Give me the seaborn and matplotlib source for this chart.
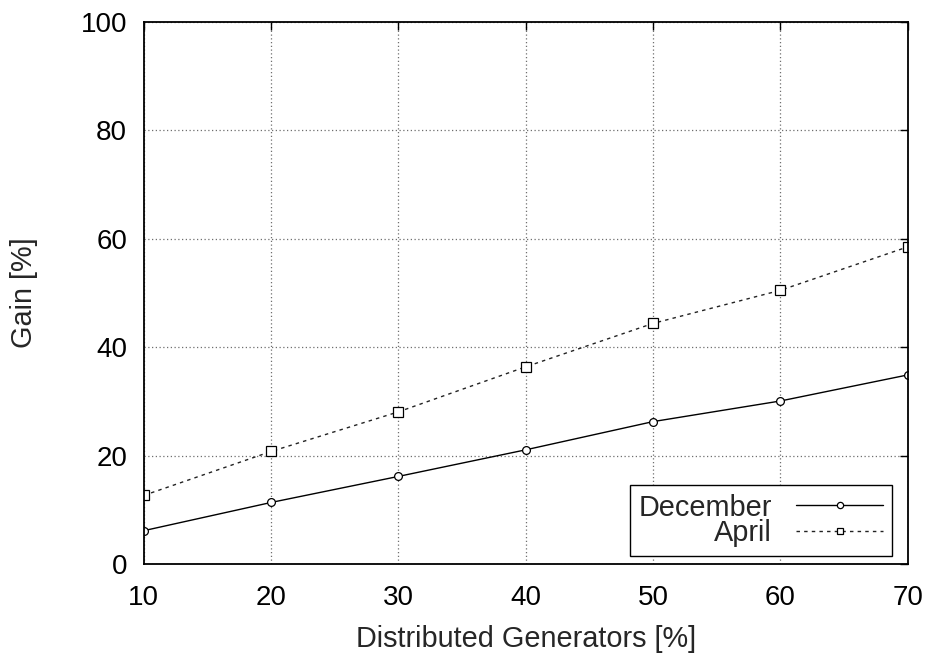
import matplotlib
matplotlib.use("Agg")
import matplotlib.pyplot as plt
import seaborn as sns
import pandas as pd

# Share of distributed generators [%]
dg_share = [10, 20, 30, 40, 50, 60, 70]
# Gain [%] per month
gain_december = [6.2, 11.4, 16.2, 21.1, 26.3, 30.1, 34.9]
gain_april = [12.7, 20.8, 28.1, 36.4, 44.4, 50.5, 58.5]

x_ticks = [10, 20, 30, 40, 50, 60, 70]
y_ticks = [0, 20, 40, 60, 80, 100]

sns.set_style("white")
plt.rcParams["font.family"] = ["Liberation Sans", "DejaVu Sans"]

df_dec = pd.DataFrame({"x": dg_share, "y": gain_december})
df_apr = pd.DataFrame({"x": dg_share, "y": gain_april})

fig = plt.figure(figsize=(9.28, 6.6), dpi=100)
ax = fig.add_axes([0.155, 0.145, 0.823, 0.822])

sns.lineplot(data=df_dec, x="x", y="y", ax=ax, color="black", linewidth=1.0,
             marker="o", markersize=5.6, markerfacecolor="white",
             markeredgecolor="black", markeredgewidth=0.9, label="December")
sns.lineplot(data=df_apr, x="x", y="y", ax=ax, color="#222222", linewidth=1.0,
             linestyle=(0, (2.5, 3)), marker="s", markersize=6.6,
             markerfacecolor="white", markeredgecolor="black",
             markeredgewidth=0.9, label="April")

ax.set_xlim(10, 70)
ax.set_ylim(0, 100)
ax.set_xticks(x_ticks)
ax.set_yticks(y_ticks)
ax.grid(True, color="#6f6f6f", linestyle=(0, (1, 2)), linewidth=0.9)
ax.set_axisbelow(True)

for s in ax.spines.values():
    s.set_color("black")
    s.set_linewidth(1.3)

ax.tick_params(axis="both", which="major", direction="in", length=6, width=1.0,
               top=True, right=True, labelsize=20, colors="black")
ax.tick_params(axis="y", pad=12)
ax.tick_params(axis="x", pad=15)

ax.set_xlabel("Distributed Generators [%]", fontsize=20.8)
ax.set_ylabel("Gain [%]", fontsize=20.8)
ax.xaxis.set_label_coords(0.5, -0.111)
ax.yaxis.set_label_coords(-0.139, 0.5)

leg = ax.legend(loc="lower right", bbox_to_anchor=(0.979, 0.015), markerfirst=False,
                fontsize=20.8, frameon=True, fancybox=False, edgecolor="black",
                framealpha=1.0, handlelength=3.0, handletextpad=0.85,
                borderpad=0.3, labelspacing=-0.07, borderaxespad=0.0)
leg.get_frame().set_linewidth(1.0)
for h in leg.legend_handles:
    h.set_markersize(4.5)

fig.savefig("out.png", dpi=100)
